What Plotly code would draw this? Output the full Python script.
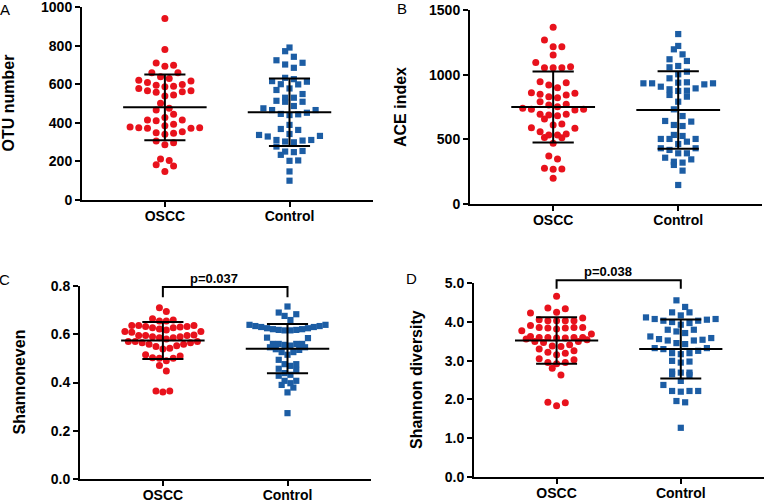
import numpy as np
import plotly.graph_objects as go

# ---------------- data ----------------
categories = ["OSCC", "Control"]

otu_oscc = [940, 780, 698, 710, 693, 638, 659, 659, 630, 621, 616, 609, 587, 566, 561, 595,
            599, 566, 578, 590, 544, 558, 539, 501, 466, 475, 427, 415, 444, 410, 415, 385,
            375, 372, 354, 346, 392, 341, 349, 372, 375, 378, 306, 286, 297, 212, 205, 182,
            176, 148]
otu_control = [790, 771, 742, 724, 711, 702, 685, 613, 626, 616, 633, 599, 600, 570, 578, 549,
               530, 509, 509, 514, 530, 475, 466, 446, 440, 444, 452, 466, 487, 389, 368, 363,
               342, 332, 311, 308, 299, 337, 303, 311, 329, 277, 254, 251, 248, 234, 203, 205,
               148, 100]

ace_oscc = [1366, 1268, 1216, 1216, 1152, 1095, 1054, 1054, 1054, 1062, 899, 938, 920, 946, 822,
            856, 843, 848, 830, 861, 752, 732, 771, 727, 766, 791, 732, 740, 688, 657, 693, 693,
            683, 611, 585, 619, 590, 534, 513, 541, 515, 559, 534, 469, 371, 348, 271, 276, 268,
            199]
ace_control = [1314, 1222, 1196, 1157, 1119, 1106, 1067, 1057, 1023, 1003, 972, 941, 933, 933,
               907, 887, 874, 876, 894, 925, 933, 938, 830, 843, 791, 732, 680, 642, 611, 603,
               637, 534, 503, 503, 503, 482, 526, 464, 431, 418, 431, 392, 358, 345, 392, 320,
               302, 327, 258, 147]

even_oscc = [0.710, 0.694, 0.655, 0.659, 0.655, 0.664, 0.636, 0.636, 0.632, 0.627, 0.627, 0.618,
             0.622, 0.630, 0.632, 0.636, 0.611, 0.597, 0.595, 0.590, 0.586, 0.595, 0.586, 0.590,
             0.595, 0.608, 0.611, 0.570, 0.565, 0.559, 0.549, 0.539, 0.580, 0.542, 0.552, 0.559,
             0.565, 0.570, 0.570, 0.510, 0.501, 0.490, 0.501, 0.503, 0.515, 0.470, 0.448, 0.365,
             0.361, 0.365]
even_control = [0.715, 0.683, 0.676, 0.690, 0.659, 0.639, 0.634, 0.630, 0.625, 0.621, 0.618,
                0.616, 0.616, 0.618, 0.621, 0.625, 0.630, 0.634, 0.639, 0.584, 0.586, 0.556,
                0.546, 0.560, 0.560, 0.538, 0.526, 0.560, 0.560, 0.535, 0.526, 0.546, 0.553,
                0.494, 0.515, 0.469, 0.476, 0.452, 0.457, 0.476, 0.432, 0.439, 0.428, 0.397,
                0.407, 0.407, 0.390, 0.379, 0.359, 0.273]

shannon_oscc = [4.657, 4.338, 4.357, 4.243, 4.227, 4.028, 4.028, 4.098, 4.028, 4.028, 4.054,
                3.840, 3.814, 3.906, 3.855, 3.855, 3.769, 3.840, 3.855, 3.684, 3.622, 3.596,
                3.596, 3.581, 3.537, 3.492, 3.407, 3.363, 3.375, 3.467, 3.492, 3.555, 3.581,
                3.596, 3.596, 3.300, 3.252, 3.192, 3.148, 3.218, 3.019, 3.045, 2.949, 2.916,
                2.949, 2.804, 2.631, 1.925, 1.837, 1.914]
shannon_control = [4.553, 4.383, 4.243, 4.165, 4.243, 4.072, 4.054, 4.028, 3.968, 3.925, 3.994,
                   4.028, 4.072, 4.113, 3.795, 3.710, 3.751, 3.795, 3.622, 3.555, 3.518, 3.451,
                   3.425, 3.518, 3.537, 3.581, 3.322, 3.252, 3.166, 3.192, 3.192, 3.296, 3.322,
                   2.975, 2.949, 2.993, 2.690, 2.631, 2.716, 2.649, 2.690, 2.372, 2.476, 2.217,
                   2.199, 2.217, 2.217, 1.958, 1.925, 1.268]

# mean and SD as drawn in the reference
otu_mean, otu_sd = [480, 455], [170, 175]
ace_mean, ace_sd = [750, 727], [275, 300]
even_mean, even_sd = [0.574, 0.540], [0.077, 0.102]
shannon_mean, shannon_sd = [3.52, 3.30], [0.60, 0.76]

y_titles = ["OTU number", "ACE index", "Shannoneven", "Shannon diversity"]
panel_letters = ["A", "B", "C", "D"]
otu_ticks = [0, 200, 400, 600, 800, 1000]
ace_ticks = [0, 500, 1000, 1500]
even_ticks = [0.0, 0.2, 0.4, 0.6, 0.8]
shannon_ticks = [0.0, 1.0, 2.0, 3.0, 4.0, 5.0]
p_labels = [None, None, "p=0.037", "p=0.038"]
bracket_levels = [None, None, (0.796, 0.753), (5.07, 4.85)]

# ---------------- styling / layout ----------------
W, H = 768, 502
FONT = "Liberation Sans, Arial, sans-serif"
RED = "#E8121C"
BLUE = "#1C5DA4"
XR = [-0.665, 1.67]

panels = [
    dict(data=(otu_oscc, otu_control), mean=otu_mean, sd=otu_sd, ticks=otu_ticks, fmt="{:.0f}",
         xpx=(82, 373), ypx=(7, 200), title_x=8, letter=(5, 10)),
    dict(data=(ace_oscc, ace_control), mean=ace_mean, sd=ace_sd, ticks=ace_ticks, fmt="{:.0f}",
         xpx=(470, 762), ypx=(10, 204), title_x=400, letter=(402, 9)),
    dict(data=(even_oscc, even_control), mean=even_mean, sd=even_sd, ticks=even_ticks, fmt="{:.1f}",
         xpx=(80, 371), ypx=(286, 479), title_x=19, letter=(4, 279)),
    dict(data=(shannon_oscc, shannon_control), mean=shannon_mean, sd=shannon_sd, ticks=shannon_ticks,
         fmt="{:.1f}", xpx=(474, 764), ypx=(283, 477), title_x=416, letter=(411, 278)),
]


def swarm_offsets(vals, ypu, xpu, row_h=8.0, max_w=76.0, max_dx=8.7):
    """Prism-like column scatter: group close values into rows, spread rows horizontally."""
    v = np.asarray(vals, float)
    order = np.argsort(v, kind="stable")
    rows, cur, start = [], [], None
    for i in order:
        if start is None or (v[i] - start) * ypu > row_h:
            if cur:
                rows.append(cur)
            cur, start = [i], v[i]
        else:
            cur.append(i)
    if cur:
        rows.append(cur)
    nmax = max(len(r) for r in rows)
    dx = min(max_dx, max_w / max(nmax - 1, 1))
    off = np.zeros(len(v))
    for r in rows:
        r = sorted(r, key=lambda i: v[i])
        n = len(r)
        if n % 2:
            slots = [0.0] + [s for k in range(1, n // 2 + 1) for s in (k, -k)]
        else:
            slots = [s for k in range(n // 2) for s in (k + 0.5, -(k + 0.5))]
        for i, s in zip(r, slots):
            off[i] = s * dx / xpu
    return off


def xdom(v):
    return (v - XR[0]) / (XR[1] - XR[0])


fig = go.Figure()
layout = dict(width=W, height=H, margin=dict(l=0, r=0, t=0, b=0, autoexpand=False),
              paper_bgcolor="white", plot_bgcolor="white", showlegend=False,
              font=dict(family=FONT, color="black"))
annotations, shapes = [], []

for k, p in enumerate(panels):
    sfx = "" if k == 0 else str(k + 1)
    xa, ya = "x" + sfx, "y" + sfx
    x0, x1 = p["xpx"]
    yt, yb = p["ypx"]
    ymax = p["ticks"][-1]
    xpu = (x1 - x0) / (XR[1] - XR[0])
    ypu = (yb - yt) / ymax

    for c, (vals, col, sym, size) in enumerate(zip(p["data"], (RED, BLUE), ("circle", "square"), (7, 6.2))):
        off = swarm_offsets(vals, ypu, xpu)
        fig.add_trace(go.Scatter(x=c + off, y=vals, mode="markers", xaxis=xa, yaxis=ya,
                                 cliponaxis=False,
                                 marker=dict(color=col, symbol=sym, size=size, line=dict(width=0))))
    # mean +/- SD
    lx, ly = [], []
    for c in range(2):
        m, s = p["mean"][c], p["sd"][c]
        lx += [c - 0.335, c + 0.335, None, c, c, None, c - 0.165, c + 0.165, None, c - 0.165, c + 0.165, None]
        ly += [m, m, None, m - s, m + s, None, m + s, m + s, None, m - s, m - s, None]
    fig.add_trace(go.Scatter(x=lx, y=ly, mode="lines", xaxis=xa, yaxis=ya,
                             line=dict(color="black", width=2), hoverinfo="skip"))

    common = dict(showline=True, linecolor="black", linewidth=2,
                  ticks="outside", ticklen=5, tickwidth=2, tickcolor="black",
                  showgrid=False, zeroline=False, automargin=False, ticklabeloverflow="allow",
                  tickfont=dict(family=FONT, size=14, color="black", weight="bold"))
    layout["xaxis" + sfx] = dict(domain=[x0 / W, x1 / W], anchor=ya, range=XR,
                                 tickvals=[0, 1], ticktext=categories, ticklabelstandoff=-3, **common)
    layout["yaxis" + sfx] = dict(domain=[1 - yb / H, 1 - yt / H], anchor=xa, range=[0, ymax],
                                 tickvals=p["ticks"], ticktext=[p["fmt"].format(t) for t in p["ticks"]],
                                 **common)

    annotations.append(dict(text="<b>" + y_titles[k] + "</b>", xref="paper", yref="paper",
                            x=p["title_x"] / W, y=1 - (yt + yb) / 2 / H, textangle=-90,
                            showarrow=False, xanchor="center", yanchor="middle",
                            font=dict(family=FONT, size=16, color="black")))
    annotations.append(dict(text=panel_letters[k], xref="paper", yref="paper",
                            x=p["letter"][0] / W, y=1 - p["letter"][1] / H, showarrow=False,
                            xanchor="center", yanchor="middle",
                            font=dict(family=FONT, size=15, color="black")))

    if p_labels[k]:
        top, leg = bracket_levels[k]
        xr_, yr_ = xa + " domain", ya + " domain"
        shapes.append(dict(type="path", xref=xr_, yref=yr_,
                           path=f"M {xdom(0)},{leg / ymax} L {xdom(0)},{top / ymax} "
                                f"L {xdom(1)},{top / ymax} L {xdom(1)},{leg / ymax}",
                           line=dict(color="black", width=2)))
        annotations.append(dict(text="<b>" + p_labels[k] + "</b>", xref=xr_, yref=yr_,
                                x=xdom(0.41), y=(top + ymax * 0.045) / ymax, showarrow=False,
                                xanchor="center", yanchor="middle",
                                font=dict(family=FONT, size=13, color="black")))

layout["annotations"] = annotations
layout["shapes"] = shapes
fig.update_layout(**layout)
fig.write_html("out.html", config={"displayModeBar": False},
               post_script="document.body.style.margin='0';document.body.style.overflow='hidden';")
